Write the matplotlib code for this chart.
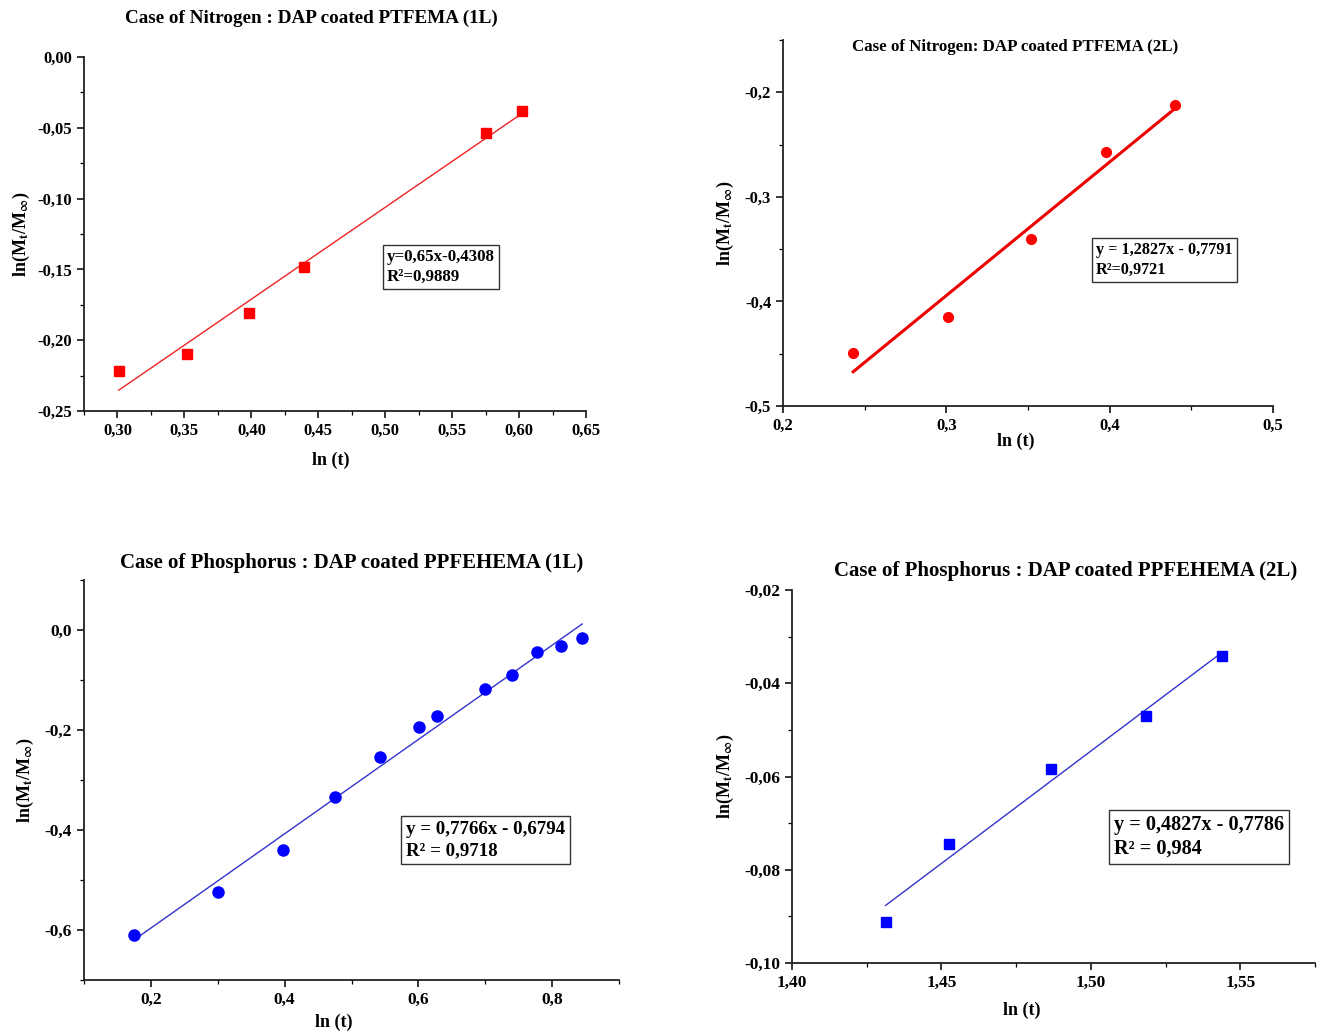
import numpy as np
import matplotlib
matplotlib.use("Agg")
import matplotlib.pyplot as plt
from matplotlib.ticker import MultipleLocator, FuncFormatter

plt.rcParams['font.family'] = ['Liberation Serif', 'DejaVu Serif']
plt.rcParams['font.weight'] = 'bold'
plt.rcParams['mathtext.fontset'] = 'stix'

# Nitrogen, PTFEMA 1L
n1_x = [0.301, 0.352, 0.398, 0.439, 0.575, 0.602]
n1_y = [-0.222, -0.210, -0.181, -0.148, -0.054, -0.038]
# Nitrogen, PTFEMA 2L
n2_x = [0.243, 0.301, 0.352, 0.398, 0.440]
n2_y = [-0.449, -0.415, -0.340, -0.257, -0.212]
# Phosphorus, PPFEHEMA 1L
p1_x = [0.175, 0.300, 0.398, 0.476, 0.543, 0.601, 0.628, 0.699, 0.740, 0.778, 0.813, 0.845]
p1_y = [-0.610, -0.524, -0.439, -0.333, -0.253, -0.193, -0.172, -0.117, -0.089, -0.043, -0.032, -0.015]
# Phosphorus, PPFEHEMA 2L
p2_x = [1.4313, 1.4524, 1.4867, 1.5184, 1.5440]
p2_y = [-0.0912, -0.0744, -0.0583, -0.0471, -0.0341]

titles = ["Case of Nitrogen : DAP coated PTFEMA (1L)",
          "Case of Nitrogen: DAP coated PTFEMA (2L)",
          "Case of Phosphorus : DAP coated PPFEHEMA (1L)",
          "Case of Phosphorus : DAP coated PPFEHEMA (2L)"]
equations = ["y=0,65x-0,4308\nR²=0,9889",
             "y = 1,2827x - 0,7791\nR²=0,9721",
             "y = 0,7766x - 0,6794\nR² = 0,9718",
             "y = 0,4827x - 0,7786\nR² = 0,984"]

W, H = 1330, 1035
fig = plt.figure(figsize=(W / 100, H / 100), dpi=100)


def add_ax(l, t, r, b):
    return fig.add_axes([l / W, 1 - b / H, (r - l) / W, (b - t) / H])


def comma_fmt(nd):
    return FuncFormatter(lambda v, p: f"{v:.{nd}f}".replace(".", ",").replace("-0,00", "0,00"))


def style(ax, xlim, ylim, xmaj, ymaj, xnd, ynd, fs=12):
    ax.set_xlim(*xlim)
    ax.set_ylim(*ylim)
    ax.spines['top'].set_visible(False)
    ax.spines['right'].set_visible(False)
    for s in ('left', 'bottom'):
        ax.spines[s].set_linewidth(1.3)
        ax.spines[s].set_color('#222222')
    ax.xaxis.set_major_locator(MultipleLocator(xmaj))
    ax.xaxis.set_minor_locator(MultipleLocator(xmaj / 2))
    ax.yaxis.set_major_locator(MultipleLocator(ymaj))
    ax.yaxis.set_minor_locator(MultipleLocator(ymaj / 2))
    ax.xaxis.set_major_formatter(comma_fmt(xnd))
    ax.yaxis.set_major_formatter(comma_fmt(ynd))
    ax.tick_params(which='major', direction='out', length=5, width=1.1, labelsize=fs)
    ax.tick_params(which='minor', direction='out', length=3, width=0.9)
    for lab in ax.get_xticklabels() + ax.get_yticklabels():
        lab.set_fontweight('bold')


def fit_line(ax, x, y, color, lw):
    k, b0 = np.polyfit(x, y, 1)
    xs = np.array([min(x), max(x)])
    ax.plot(xs, k * xs + b0, color=color, lw=lw, zorder=2)


ylab = r'ln(M$_{\mathbf{t}}$/M$_{\mathbf{\infty}}$)'

# top left
ax1 = add_ax(84, 57, 586, 411)
style(ax1, (0.275, 0.65), (-0.25, 0.0), 0.05, 0.05, 2, 2)
fit_line(ax1, n1_x, n1_y, '#ee2222', 1.0)
ax1.plot(n1_x, n1_y, 's', color='#ff0000', ms=7.5, zorder=3)
ax1.set_xlabel("ln (t)", fontsize=13, fontweight='bold')
ax1.xaxis.set_label_coords(0.492, -0.115)
ax1.set_ylabel(ylab, fontsize=13, fontweight='bold', labelpad=4)

# top right
ax2 = add_ax(783, 40, 1273, 406)
style(ax2, (0.2, 0.5), (-0.5, -0.15), 0.1, 0.1, 1, 1)
fit_line(ax2, n2_x, n2_y, '#ee0000', 2.2)
ax2.plot(n2_x, n2_y, 'o', color='#ff0000', ms=7, zorder=3)
ax2.set_xlabel("ln (t)", fontsize=13, fontweight='bold')
ax2.xaxis.set_label_coords(0.476, -0.072)
ax2.set_ylabel(ylab, fontsize=13, fontweight='bold', labelpad=6)

# bottom left
ax3 = add_ax(84, 580, 619, 980)
style(ax3, (0.1, 0.9), (-0.7, 0.1), 0.2, 0.2, 1, 1, fs=12.5)
fit_line(ax3, p1_x, p1_y, '#3333cc', 1.0)
ax3.plot(p1_x, p1_y, 'o', color='#0000ff', ms=8, zorder=3)
ax3.set_xlabel("ln (t)", fontsize=13, fontweight='bold')
ax3.xaxis.set_label_coords(0.467, -0.085)
ax3.set_ylabel(ylab, fontsize=13, fontweight='bold', labelpad=6)

# bottom right
ax4 = add_ax(792, 590, 1315, 963)
style(ax4, (1.40, 1.575), (-0.10, -0.02), 0.05, 0.02, 2, 2, fs=12.5)
fit_line(ax4, p2_x, p2_y, '#3333cc', 1.0)
ax4.plot(p2_x, p2_y, 's', color='#0000ff', ms=7, zorder=3)
ax4.set_xlabel("ln (t)", fontsize=13, fontweight='bold')
ax4.xaxis.set_label_coords(0.44, -0.105)
ax4.set_ylabel(ylab, fontsize=13, fontweight='bold', labelpad=6)

# titles
fig.text(311 / W, 1 - 18 / H, titles[0], ha='center', va='center', fontsize=13.8, fontweight='bold')
fig.text(1015 / W, 1 - 47 / H, titles[1], ha='center', va='center', fontsize=12.2, fontweight='bold')
fig.text(352 / W, 1 - 563 / H, titles[2], ha='center', va='center', fontsize=15, fontweight='bold')
fig.text(1066 / W, 1 - 571 / H, titles[3], ha='center', va='center', fontsize=15, fontweight='bold')

# equation boxes
box = dict(boxstyle='square,pad=0.25', facecolor='white', edgecolor='#333333', linewidth=1.0)
fig.text(387 / W, 1 - 267 / H, equations[0], ha='left', va='center', fontsize=12.2,
         fontweight='bold', linespacing=1.3, bbox=box)
fig.text(1096 / W, 1 - 260 / H, equations[1], ha='left', va='center', fontsize=11.7,
         fontweight='bold', linespacing=1.3, bbox=box)
fig.text(406 / W, 1 - 840 / H, equations[2], ha='left', va='center', fontsize=13.6,
         fontweight='bold', linespacing=1.3, bbox=box)
fig.text(1114 / W, 1 - 837 / H, equations[3], ha='left', va='center', fontsize=14.6,
         fontweight='bold', linespacing=1.25, bbox=box)

fig.savefig("out.png", dpi=100)
